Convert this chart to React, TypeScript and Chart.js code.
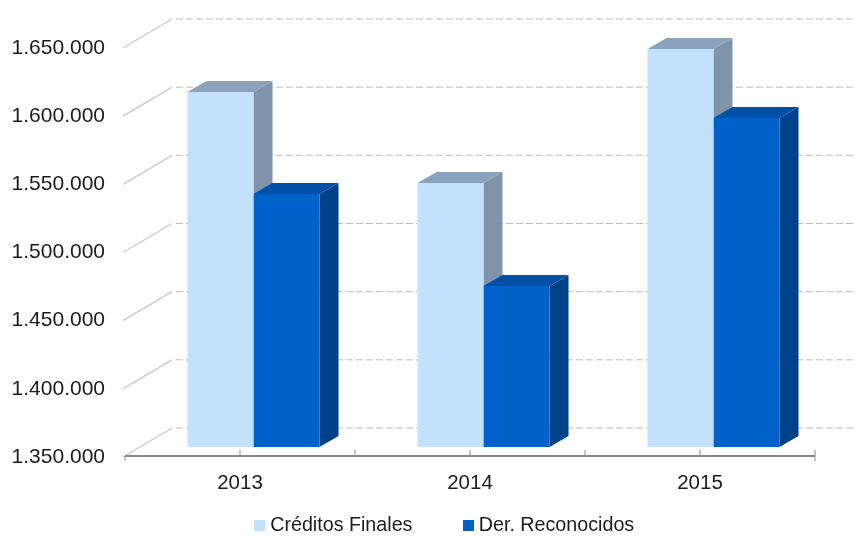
import React, { useEffect, useRef } from "react";
import { Chart, registerables } from "chart.js";

Chart.register(...registerables);

const categories = ["2013", "2014", "2015"];
const creditosFinales = [1610400, 1543600, 1641900];
const derReconocidos = [1535600, 1468100, 1591300];
const seriesNames = ["Créditos Finales", "Der. Reconocidos"];
const yMin = 1350000;
const yMax = 1650000;
const yStep = 50000;

const FONT = '"Liberation Sans", Arial, sans-serif';
const frontColors = ["#c3e0fc", "#0061cb"];
const sideColors = ["#7f93aa", "#004289"];
const topColors = ["#8ba2bd", "#0050a8"];

const BAR_DX = 13.5, BAR_DY = -9; // bars stand inside the floor
const DEPTH_X = 19, DEPTH_Y = -11; // bar depth
const WALL_X = 47, WALL_Y = -28; // back wall offset

function swatch(color: string) {
  const c = document.createElement("canvas");
  c.width = 11;
  c.height = 11;
  const g = c.getContext("2d")!;
  g.fillStyle = color;
  g.fillRect(0, 0, 11, 11);
  return c;
}

function poly(ctx: CanvasRenderingContext2D, pts: number[][], fill: string) {
  ctx.beginPath();
  pts.forEach((p, i) => (i ? ctx.lineTo(p[0], p[1]) : ctx.moveTo(p[0], p[1])));
  ctx.closePath();
  ctx.fillStyle = fill;
  ctx.fill();
}

const depthPlugin = {
  id: "depth",
  beforeLayout(chart: any) {
    const legend = chart.legend;
    if (legend) {
      const baseFit = Object.getPrototypeOf(legend).fit;
      legend.fit = function () {
        baseFit.call(this);
        this.height = 37;
      };
    }
  },
  afterLayout(chart: any) {
    if (chart.legend) {
      chart.legend.top = 461;
      chart.legend.left += 78;
    }
  },
  beforeDatasetsDraw(chart: any) {
    const { ctx, scales } = chart;
    const x = scales.x, y = scales.y;
    const left = x.left, right = x.right;
    ctx.save();
    // walls: floor-to-back diagonals and dashed back lines
    y.ticks.forEach((t: any) => {
      const py = y.getPixelForValue(t.value);
      ctx.setLineDash([]);
      ctx.strokeStyle = "#c9c9c6";
      ctx.lineWidth = 1.3;
      ctx.beginPath();
      ctx.moveTo(left - 2, py + 1);
      ctx.lineTo(left + WALL_X, py + WALL_Y);
      ctx.stroke();
      ctx.setLineDash([7, 3]);
      ctx.strokeStyle = "#bdbdbb";
      ctx.lineWidth = 1;
      ctx.beginPath();
      ctx.moveTo(left + WALL_X + 4, py + WALL_Y);
      ctx.lineTo(right + WALL_X, py + WALL_Y);
      ctx.stroke();
    });
    ctx.setLineDash([]);
    // axis line and ticks
    ctx.strokeStyle = "#8c8a87";
    ctx.lineWidth = 2;
    ctx.beginPath();
    ctx.moveTo(left, y.bottom);
    ctx.lineTo(right, y.bottom);
    ctx.stroke();
    ctx.lineWidth = 1;
    const half = (x.getPixelForTick(1) - x.getPixelForTick(0)) / 2;
    categories.forEach((_, i) => {
      const c = x.getPixelForTick(i);
      ctx.beginPath();
      ctx.moveTo(c, y.bottom - 6);
      ctx.lineTo(c, y.bottom);
      ctx.moveTo(c + half, y.bottom - 6);
      ctx.lineTo(c + half, y.bottom + (i === categories.length - 1 ? 5 : 0));
      if (i === 0) {
        ctx.moveTo(c - half, y.bottom);
        ctx.lineTo(c - half, y.bottom + 5);
      }
      ctx.stroke();
    });
    // side and top faces of the bars, in series order
    ctx.translate(BAR_DX, BAR_DY);
    chart.data.datasets.forEach((_: any, di: number) => {
      chart.getDatasetMeta(di).data.forEach((bar: any) => {
        const { x: cx, y: top, base, width } = bar.getProps(["x", "y", "base", "width"], true);
        const l = cx - width / 2, r = cx + width / 2;
        poly(ctx, [[r, top], [r + DEPTH_X, top + DEPTH_Y], [r + DEPTH_X, base + DEPTH_Y], [r, base]], sideColors[di]);
        poly(ctx, [[l, top], [l + DEPTH_X, top + DEPTH_Y], [r + DEPTH_X, top + DEPTH_Y], [r, top]], topColors[di]);
      });
    });
    ctx.restore();
    // the flat faces are drawn by Chart.js with the same shift
    ctx.save();
    ctx.translate(BAR_DX, BAR_DY);
  },
  afterDatasetsDraw(chart: any) {
    chart.ctx.restore();
  },
};

export default function App() {
  const ref = useRef<HTMLCanvasElement>(null);
  useEffect(() => {
    document.body.style.margin = "0";
    const chart = new Chart(ref.current!, {
      type: "bar",
      data: {
        labels: categories,
        datasets: [
          { label: seriesNames[0], data: creditosFinales, base: yMin, backgroundColor: frontColors[0], borderWidth: 0 },
          { label: seriesNames[1], data: derReconocidos, base: yMin, backgroundColor: frontColors[1], borderWidth: 0 },
        ],
      },
      options: {
        animation: false,
        responsive: false,
        devicePixelRatio: 1,
        categoryPercentage: 0.574,
        barPercentage: 1,
        layout: { padding: { top: 47, right: 40, bottom: 1, left: 0 } },
        plugins: {
          tooltip: { enabled: false },
          legend: {
            position: "bottom",
            labels: {
              usePointStyle: true,
              pointStyleWidth: 1.5,
              padding: 55,
              color: "#1c1c1c",
              font: { family: FONT, size: 19.7 },
              generateLabels: () =>
                seriesNames.map((text, i) => ({
                  text,
                  pointStyle: swatch(frontColors[i]),
                  fontColor: "#1c1c1c",
                  lineWidth: 0,
                  datasetIndex: i,
                })),
            },
          },
        },
        scales: {
          x: {
            grid: { display: false },
            border: { display: false },
            ticks: { color: "#1c1c1c", font: { family: FONT, size: 20.5 }, padding: 7, maxRotation: 0 },
            afterFit: (s: any) => { s.height = 42; },
          },
          y: {
            min: yMin,
            max: yMax,
            grid: { display: false },
            border: { display: false },
            ticks: {
              stepSize: yStep,
              color: "#1c1c1c",
              font: { family: FONT, size: 21 },
              padding: 12,
              labelOffset: 1,
              callback: (v: any) => Number(v).toLocaleString("de-DE"),
            },
            afterFit: (s: any) => { s.width = 125; },
          },
        },
      },
      plugins: [depthPlugin],
    } as any);
    return () => chart.destroy();
  }, []);
  return (
    <div style={{ position: "fixed", left: 0, top: 0, width: 855, height: 536, background: "#fff" }}>
      <canvas ref={ref} width={855} height={536} style={{ display: "block" }} />
    </div>
  );
}
